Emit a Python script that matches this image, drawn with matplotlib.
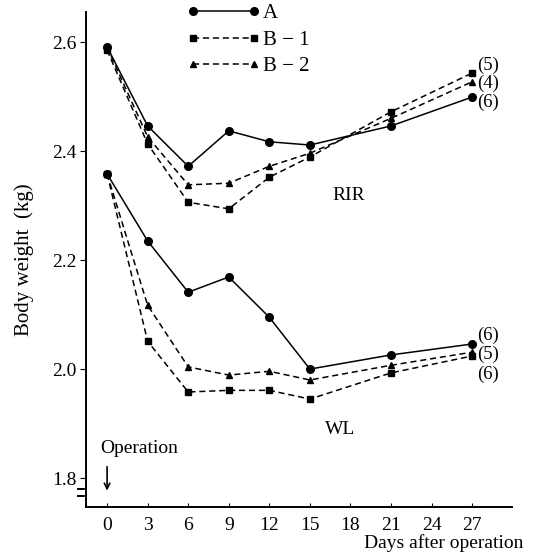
import matplotlib
matplotlib.use("Agg")
import matplotlib.pyplot as plt
from matplotlib.legend_handler import HandlerLine2D

plt.rcParams["font.family"] = ["Liberation Serif", "DejaVu Serif"]

# Días tras la operación
days = [0, 3, 6, 9, 12, 15, 21, 27]

# RIR
rir_a = [2.591, 2.446, 2.372, 2.437, 2.417, 2.411, 2.446, 2.499]
rir_b1 = [2.585, 2.413, 2.306, 2.294, 2.352, 2.389, 2.472, 2.543]
rir_b2 = [2.590, 2.426, 2.338, 2.341, 2.372, 2.396, 2.460, 2.527]

# WL
wl_a = [2.358, 2.235, 2.141, 2.169, 2.095, 2.000, 2.026, 2.046]
wl_b1 = [2.358, 2.051, 1.958, 1.961, 1.961, 1.945, 1.993, 2.024]
wl_b2 = [2.358, 2.117, 2.004, 1.989, 1.996, 1.980, 2.007, 2.031]

rir_n = ["(5)", "(4)", "(6)"]
wl_n = ["(6)", "(5)", "(6)"]

x_ticks = [0, 3, 6, 9, 12, 15, 18, 21, 24, 27]
y_ticks = [1.8, 2.0, 2.2, 2.4, 2.6]

DASH = (0, (4, 2.5))
estilos = {
    "A": dict(color="black", lw=1.1, ls="-", marker="o", ms=5.5),
    "B1": dict(color="black", lw=1.1, ls=DASH, marker="s", ms=5),
    "B2": dict(color="black", lw=1.1, ls=DASH, marker="^", ms=4.5),
}

fig = plt.figure(figsize=(5.35, 5.59), dpi=100)
ax = fig.add_axes([0.161, 0.093, 0.796, 0.8855])

la, = ax.plot(days, rir_a, label="A", **estilos["A"])
lb1, = ax.plot(days, rir_b1, label="B − 1", **estilos["B1"])
lb2, = ax.plot(days, rir_b2, label="B − 2", **estilos["B2"])
ax.plot(days, wl_a, **estilos["A"])
ax.plot(days, wl_b1, **estilos["B1"])
ax.plot(days, wl_b2, **estilos["B2"])

ax.set_xlim(-1.55, 29.95)
ax.set_ylim(1.747, 2.655)
ax.set_xticks(x_ticks)
ax.set_yticks(y_ticks)
ax.set_yticklabels([f"{v:.1f}" for v in y_ticks])
ax.tick_params(axis="x", direction="in", length=3, labelsize=14, pad=7)
ax.tick_params(axis="y", direction="out", length=4, labelsize=14, pad=3)
ax.spines["top"].set_visible(False)
ax.spines["right"].set_visible(False)
for s in ("left", "bottom"):
    ax.spines[s].set_linewidth(1.4)

# corte del eje y
ax.plot([-0.02, 0.0], [0.022, 0.022], transform=ax.transAxes, color="black", lw=1.4, clip_on=False)
ax.plot([-0.02, 0.0], [0.036, 0.036], transform=ax.transAxes, color="black", lw=1.4, clip_on=False)
ax.plot([0, 0], [0.023, 0.035], transform=ax.transAxes, color="white", lw=2.5, clip_on=False)

ax.set_ylabel("Body weight  (kg)", fontsize=15, labelpad=13)
fig.text(0.978, 0.012, "Days after operation", fontsize=14, ha="right", va="bottom")

ax.text(16.7, 2.318, "RIR", fontsize=14, ha="left", va="center")
ax.text(16.1, 1.889, "WL", fontsize=14, ha="left", va="center")

for txt, y in zip(rir_n, [2.558, 2.525, 2.490]):
    ax.text(27.4, y, txt, fontsize=13.5, ha="left", va="center")
for txt, y in zip(wl_n, [2.062, 2.027, 1.991]):
    ax.text(27.4, y, txt, fontsize=13.5, ha="left", va="center")

ax.text(-0.5, 1.855, "Operation", fontsize=14, ha="left", va="center")
ax.annotate("", xy=(0, 1.772), xytext=(0, 1.826),
            arrowprops=dict(arrowstyle="->", color="black", lw=1.2))

leg = ax.legend(handles=[la, lb1, lb2], loc="upper left",
                bbox_to_anchor=(0.361, 0.993), bbox_transform=fig.transFigure,
                frameon=False, fontsize=15, numpoints=2, handlelength=2.9,
                handletextpad=0.45, labelspacing=0.33, borderpad=0.0,
                borderaxespad=0.0,
                handler_map={la: HandlerLine2D(marker_pad=0, numpoints=2),
                             lb1: HandlerLine2D(marker_pad=0, numpoints=2),
                             lb2: HandlerLine2D(marker_pad=0, numpoints=2)})

fig.savefig("out.png", dpi=100)
